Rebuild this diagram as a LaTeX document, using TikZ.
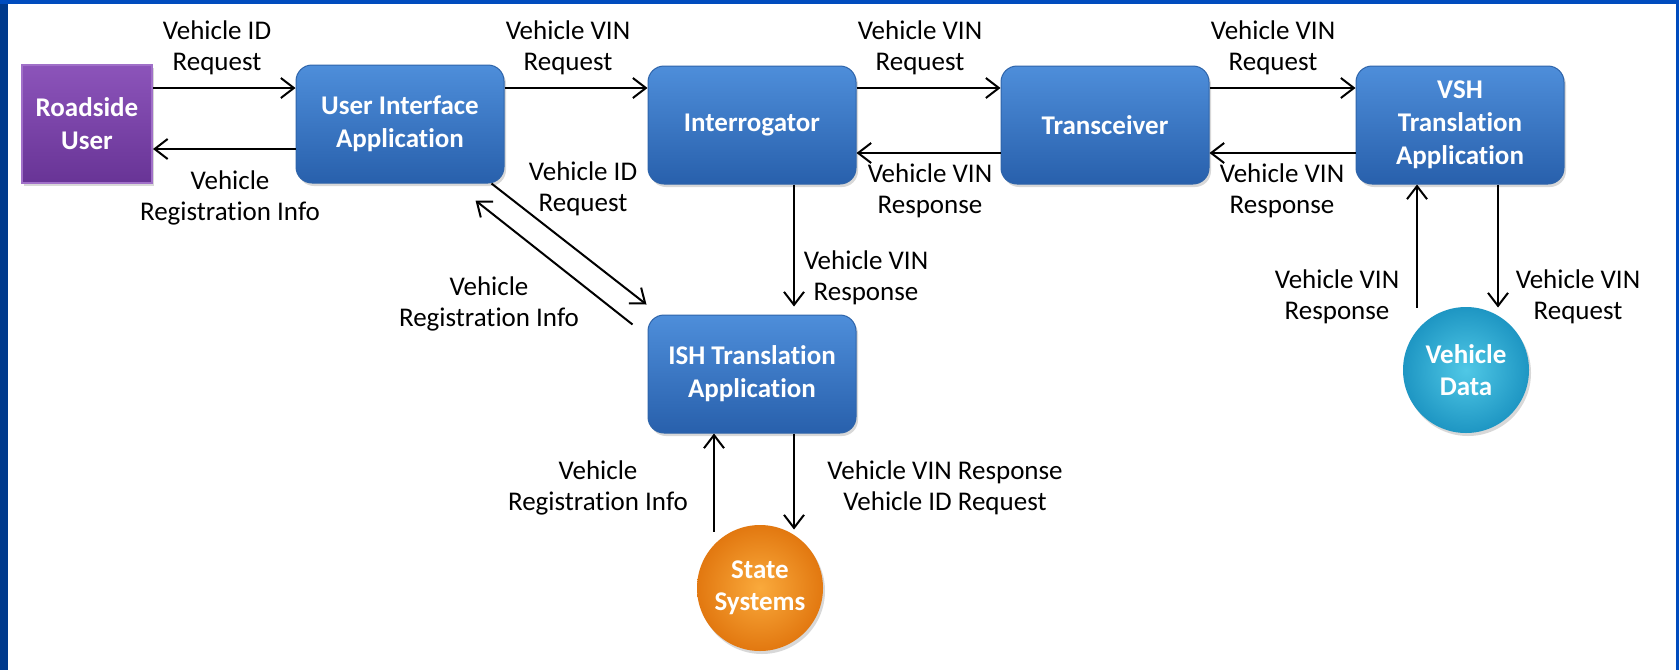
\documentclass[tikz,border=0pt]{standalone}
\usepackage{fontspec}
\setmainfont{Carlito}[Ligatures=NoCommon]
\usetikzlibrary{arrows.meta,calc,shadows}

\definecolor{framedark}{RGB}{0,58,140}
\definecolor{framelight}{RGB}{0,76,190}
\definecolor{boxtop}{RGB}{78,142,218}
\definecolor{boxbot}{RGB}{40,96,172}
\definecolor{boxedge}{RGB}{46,100,170}
\definecolor{purtop}{RGB}{140,84,186}
\definecolor{purbot}{RGB}{104,52,150}
\definecolor{puredge}{RGB}{160,112,200}
\definecolor{orin}{RGB}{250,170,60}
\definecolor{orout}{RGB}{226,120,16}
\definecolor{cyin}{RGB}{80,200,230}
\definecolor{cyout}{RGB}{30,150,195}

\begin{document}
\begin{tikzpicture}[x=1pt,y=-1pt,font=\fontsize{27}{31}\selectfont,
  box/.style={rounded corners=16pt,minimum width=208pt,minimum height=118pt,
    top color=boxtop,bottom color=boxbot,draw=boxedge,line width=1pt,
    text=white,align=center,font=\fontsize{27}{33}\selectfont\bfseries,
    drop shadow={shadow xshift=2pt,shadow yshift=-3pt,opacity=0.3}},
  ball/.style={circle,minimum size=126pt,inner sep=0pt,text=white,align=center,
    font=\fontsize{27}{32}\selectfont\bfseries,
    drop shadow={shadow xshift=2pt,shadow yshift=-3pt,opacity=0.3}},
  lbl/.style={align=center,inner sep=0pt},
  flow/.style={-{Straight Barb[length=13pt,width=20pt]},line width=2pt}]

\useasboundingbox (0,0) rectangle (1679,670);
\fill[white] (0,0) rectangle (1679,670);
\fill[framedark] (0,0) rectangle (8,670);
\fill[framelight] (0,0) rectangle (1679,4);
\fill[framelight] (1676,0) rectangle (1679,670);

% boxes
\node[minimum width=130pt,minimum height=118pt,top color=purtop,bottom color=purbot,
  draw=puredge,line width=2pt,text=white,align=center,
  font=\fontsize{27}{33}\selectfont\bfseries,
  drop shadow={shadow xshift=2pt,shadow yshift=-3pt,opacity=0.3}] (ru) at (87,124) {Roadside\\User};
\node[box] (uia) at (400,124) {User Interface\\Application};
\node[box] (int) at (752,125) {Interrogator};
\node[box] (trx) at (1105,125) {Transceiver};
\node[box] (vsh) at (1460,125) {VSH\\Translation\\Application};
\node[box] (ish) at (752,374) {ISH Translation\\Application};
\node[ball,inner color=orin,outer color=orout] (ss) at (760,588) {State\\Systems};
\node[ball,inner color=cyin,outer color=cyout] (vd) at (1466,370) {Vehicle\\Data};

% top row
\draw[flow] ([yshift=36]ru.east) -- ([yshift=36]uia.west);
\draw[flow] ([yshift=-25]uia.west) -- ([yshift=-25]ru.east);
\draw[flow] ([yshift=36]uia.east) -- ([yshift=37]int.west);
\draw[flow] ([yshift=37]int.east) -- ([yshift=37]trx.west);
\draw[flow] ([yshift=-28]trx.west) -- ([yshift=-28]int.east);
\draw[flow] ([yshift=37]trx.east) -- ([yshift=37]vsh.west);
\draw[flow] ([yshift=-28]vsh.west) -- ([yshift=-28]trx.east);

\node[lbl] (l1) at (217,48) {Vehicle ID\\Request};
\node[lbl] (l2) at (568,48) {Vehicle VIN\\Request};
\node[lbl] (l3) at (920,48) {Vehicle VIN\\Request};
\node[lbl] (l4) at (1273,48) {Vehicle VIN\\Request};
\node[lbl] (l5) at (230,198) {Vehicle\\Registration Info};
\node[lbl] (l6) at (930,191) {Vehicle VIN\\Response};
\node[lbl] (l7) at (1282,191) {Vehicle VIN\\Response};

% diagonals and verticals
\draw[flow] ($(uia.south east)+(-13,0)$) -- ($(ish.north west)+(-1,-10)$);
\draw[flow] ($(ish.north west)+(-15,10)$) -- ($(uia.south east)+(-29,17)$);
\draw[flow] ([xshift=42]int.south) -- ($(ish.north)+(42,-8)$);
\draw[flow] ($(ish.south)+(-38,98)$) -- ([xshift=-38]ish.south);
\draw[flow] ([xshift=42]ish.south) -- ($(ish.south)+(42,96)$);
\draw[flow] ($(vsh.south)+(-43,123)$) -- ([xshift=-43]vsh.south);
\draw[flow] ([xshift=38]vsh.south) -- ($(vsh.south)+(38,123)$);

\node[lbl] (l8) at (583,189) {Vehicle ID\\Request};
\node[lbl] (l9) at (489,304) {Vehicle\\Registration Info};
\node[lbl] (l10) at (866,278) {Vehicle VIN\\Response};
\node[lbl] (l11) at (598,488) {Vehicle\\Registration Info};
\node[lbl] (l12) at (945,488) {Vehicle VIN Response\\Vehicle ID Request};
\node[lbl] (l13) at (1337,297) {Vehicle VIN\\Response};
\node[lbl] (l14) at (1578,297) {Vehicle VIN\\Request};

\end{tikzpicture}
\end{document}
